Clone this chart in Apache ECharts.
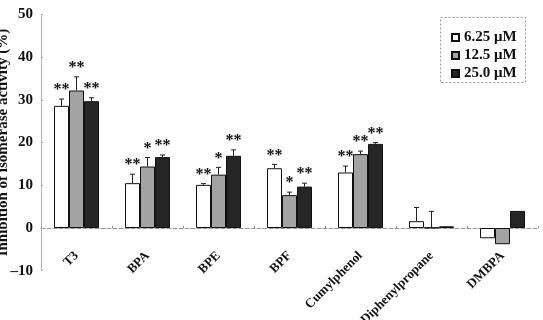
<!DOCTYPE html>
<html><head><meta charset="utf-8">
<script src="https://cdn.jsdelivr.net/npm/echarts@6/dist/echarts.min.js"></script>
<style>html,body{margin:0;padding:0;background:#fff}#c{width:543px;height:320px}</style>
</head><body><div id="c"></div>
<script>
const categories = ['T3','BPA','BPE','BPF','Cumylphenol','Diphenylpropane','DMBPA'];
const seriesNames = ['6.25 μM','12.5 μM','25.0 μM'];
const v625 = [28.6, 10.5, 10.1, 14.0, 13.0, 1.6, -2.4];
const v125 = [32.2, 14.4, 12.5, 7.7, 17.3, 0.1, -3.8];
const v250 = [29.7, 16.6, 16.9, 9.7, 19.7, 0.4, 4.0];
const e625 = [1.6, 2.1, 0.3, 0.9, 1.5, 3.2, 0];
const e125 = [3.2, 2.1, 1.7, 0.7, 0.7, 3.8, 0];
const e250 = [0.8, 0.5, 1.4, 0.8, 0.3, 0, 0];
const s625 = ['**','**','**','**','**','',''];
const s125 = ['**','*','*','*','**','',''];
const s250 = ['**','**','**','**','**','',''];
const yTicks = [-10, 0, 10, 20, 30, 40, 50];

const font = 'Liberation Serif';
const colors = ['#ffffff', '#a3a3a3', '#262626'];
const values = [v625, v125, v250];
const errs = [e625, e125, e250];
const stars = [s625, s125, s250];
const BW = 15;

const chart = echarts.init(document.getElementById('c'));
const series = [];
values.forEach((vals, si) => {
  series.push({
    name: seriesNames[si], type: 'bar', data: vals, barWidth: BW, barGap: '0%',
    itemStyle: { color: colors[si], borderColor: '#111', borderWidth: 1 },
    z: 2
  });
});
values.forEach((vals, si) => {
  const data = vals.map((v, i) => [i, v, errs[si][i], stars[si][i]]);
  series.push({
    type: 'custom', z: 3, silent: true,
    data: data,
    renderItem: function (params, api) {
      const i = api.value(0), v = api.value(1), e = api.value(2);
      const st = data[params.dataIndex][3];
      const top = api.coord([i, v]);
      const x = top[0] + (si - 1) * BW;
      const children = [];
      let yTop = top[1];
      if (e > 0) {
        const p2 = api.coord([i, v + e]);
        yTop = p2[1];
        children.push({ type: 'line', shape: { x1: x, y1: top[1], x2: x, y2: p2[1] }, style: { stroke: '#222', lineWidth: 1 } });
        children.push({ type: 'line', shape: { x1: x - 2.5, y1: p2[1], x2: x + 2.5, y2: p2[1] }, style: { stroke: '#222', lineWidth: 1 } });
      }
      if (st) {
        children.push({ type: 'text', style: { x: x, y: yTop - 1, text: st, textAlign: 'center', textVerticalAlign: 'bottom', font: 'bold 16px "' + font + '"', fill: '#111' } });
      }
      return { type: 'group', children: children };
    }
  });
});

chart.setOption({
  animation: false,
  grid: { left: 41, right: 5, top: 14.5, bottom: 49.3, containLabel: false, outerBoundsMode: 'none' },
  legend: {
    data: seriesNames, orient: 'vertical', left: 446, top: 25,
    icon: 'rect', itemWidth: 7, itemHeight: 7, itemGap: 3,
    textStyle: { fontFamily: font, fontWeight: 'bold', fontSize: 15, color: '#111' }
  },
  graphic: [{ type: 'rect', left: 438, top: 15, shape: { width: 85, height: 65 }, style: { fill: 'none', stroke: '#999', lineWidth: 1, lineDash: [2, 2] } }],
  xAxis: {
    type: 'category', data: categories, boundaryGap: true,
    axisLine: { onZero: true, lineStyle: { color: '#999', type: 'dashed' } },
    axisTick: { show: true, length: 2, inside: true, lineStyle: { color: '#888' } },
    axisLabel: { rotate: 45, margin: -17, fontFamily: font, fontWeight: 'bold', fontSize: 13, color: '#111' }
  },
  yAxis: {
    type: 'value', min: -10, max: 50, interval: 10,
    name: 'Inhibition of isomerase activity (%)', nameLocation: 'middle', nameGap: 30, nameMoveOverlap: false,
    nameTextStyle: { fontFamily: font, fontWeight: 'bold', fontSize: 15, color: '#111' },
    axisLine: { show: true, lineStyle: { color: '#aaa', type: 'dotted' } },
    axisTick: { show: true, length: 2, inside: true, lineStyle: { color: '#aaa' } },
    splitLine: { show: false },
    axisLabel: { margin: 8, fontFamily: font, fontWeight: 'bold', fontSize: 15, color: '#111',
      formatter: v => yTicks.includes(v) ? (v < 0 ? '–' + Math.abs(v) : String(v)) : '' }
  },
  series: series
});
</script></body></html>
